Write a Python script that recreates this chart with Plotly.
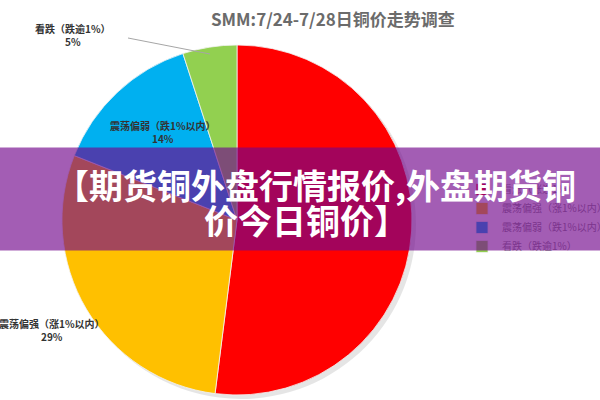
import plotly.graph_objects as go

# ---- data ----
labels = ["看涨（涨逾1%）", "震荡偏强（涨1%以内）", "震荡偏弱（跌1%以内）", "看跌（跌逾1%）"]
values = [52, 29, 14, 5]
colors = ["#FF0000", "#FFC000", "#00B0F0", "#92D050"]
title_text = "SMM:7/24-7/28日铜价走势调查"
banner_lines = ["【期货铜外盘行情报价,外盘期货铜", "价今日铜价】"]

W, H = 600, 400
cx, cy, r = 237, 220, 175


def px(x):
    return x / W


def py(y):
    return 1 - y / H


dom_x = [px(cx - r), px(cx + r)]
dom_y = [py(cy + r), py(cy - r)]

fig = go.Figure()

# soft shadow
fig.add_trace(go.Pie(
    labels=labels, values=values, sort=False, direction="clockwise", rotation=0,
    marker=dict(colors=["rgba(0,0,0,0.10)"] * 4, line=dict(width=0)),
    textinfo="none", hoverinfo="skip", showlegend=False,
    domain=dict(x=[px(cx - r + 4), px(cx + r + 4)], y=[py(cy + r + 4), py(cy - r + 4)]),
))

fig.add_trace(go.Pie(
    labels=labels, values=values, sort=False, direction="clockwise", rotation=0,
    marker=dict(colors=colors, line=dict(color="#F2F2F2", width=0.8)),
    textinfo="none", showlegend=True,
    domain=dict(x=dom_x, y=dom_y),
))

annotations = []
# title
annotations.append(dict(
    text=f"<b>{title_text}</b>", x=px(333), y=py(18), xref="paper", yref="paper",
    showarrow=False, font=dict(family="Noto Sans CJK SC", size=17, color="#6B6B6B"),
    xanchor="center", yanchor="middle"))

# slice labels
label_pos = {1: (52, 330), 2: (163, 132), 3: (73, 35)}
for i, (lx, ly) in label_pos.items():
    annotations.append(dict(
        text=f"<b>{labels[i]}</b><br><b>{values[i]}%</b>", x=px(lx), y=py(ly),
        xref="paper", yref="paper", showarrow=False, align="center",
        font=dict(family="Noto Sans CJK SC", size=10, color="#333333"),
        xanchor="center", yanchor="middle"))

# banner box (drawn as annotation so it sits above legend)
annotations.append(dict(
    text="", x=0.5, y=py(199), xref="paper", yref="paper", showarrow=False,
    width=W + 10, height=102, bgcolor="rgba(114,6,140,0.65)", borderpad=0,
    xanchor="center", yanchor="middle"))
annotations.append(dict(
    text=f"<b>{banner_lines[0]}</b>", x=px(315), y=py(184), xref="paper", yref="paper",
    showarrow=False, font=dict(family="Noto Sans CJK SC", size=34, color="white", weight=900),
    xanchor="center", yanchor="middle"))
annotations.append(dict(
    text=f"<b>{banner_lines[1]}</b>", x=px(306), y=py(219), xref="paper", yref="paper",
    showarrow=False, font=dict(family="Noto Sans CJK SC", size=34, color="white", weight=900),
    xanchor="center", yanchor="middle"))

fig.update_layout(
    width=W, height=H,
    margin=dict(l=0, r=0, t=0, b=0, autoexpand=False),
    paper_bgcolor="white", plot_bgcolor="white",
    annotations=annotations,
    shapes=[dict(type="line", xref="paper", yref="paper",
                 x0=px(128), y0=py(38), x1=px(210), y1=py(54),
                 line=dict(color="#A6A6A6", width=1))],
    legend=dict(x=px(462), y=py(175), xanchor="left", yanchor="top",
                font=dict(family="Noto Sans CJK SC", size=10, color="#8C8C8C"),
                tracegroupgap=0, itemwidth=30, bgcolor="rgba(0,0,0,0)"),
)

fig.write_html(
    "out.html",
    config={"displayModeBar": False},
    post_script="document.body.style.margin='0';document.body.style.overflow='hidden';",
)
